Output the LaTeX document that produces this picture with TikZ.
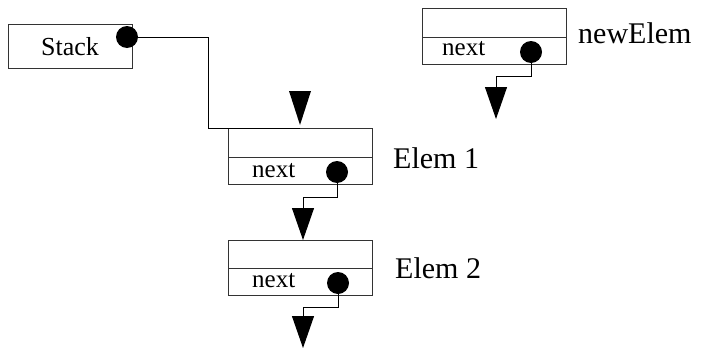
\documentclass[tikz,border=0pt]{standalone}
\usepackage{fontspec}
\setmainfont{Liberation Serif}
\usetikzlibrary{arrows.meta}
\begin{document}
\begin{tikzpicture}[x=1pt,y=-1pt,
  cell/.style={draw=black!80, line width=1pt, rectangle, inner sep=0pt, outer sep=0pt, minimum width=144pt},
  dot/.style={circle, fill=black, inner sep=0pt, minimum size=22pt},
  small/.style={inner sep=0pt, anchor=base west, font=\fontsize{25}{30}\selectfont},
  big/.style={inner sep=0pt, anchor=base west, font=\fontsize{30}{36}\selectfont},
  link/.style={draw=black, line width=1pt},
  tip/.style={-{Triangle[width=22pt,length=32pt,fill=black]}}
]
\useasboundingbox (0,0) rectangle (701,348);
% Stack
\node[cell, minimum width=124pt, minimum height=44pt] (stack) at (70,46) {};
\node[small, font=\fontsize{26}{30}\selectfont] (stacktxt) at (41,55) {Stack};
% newElem
\node[cell, minimum height=29pt] (nt) at (494,22.5) {};
\node[cell, minimum height=27pt] (nb) at (494,50.5) {};
\node[small] (ntxt) at (442,55) {next};
\node[big] (nlab) at (578,43) {newElem};
% Elem 1
\node[cell, minimum height=29pt] (e1t) at (300,142.5) {};
\node[cell, minimum height=27pt] (e1b) at (300,170.5) {};
\node[small] (e1txt) at (252,177) {next};
\node[big] (e1lab) at (393,168) {Elem 1};
% Elem 2
\node[cell, minimum height=28pt] (e2t) at (300,254) {};
\node[cell, minimum height=27pt] (e2b) at (300,281.5) {};
\node[small] (e2txt) at (252,287) {next};
\node[big] (e2lab) at (395,278) {Elem 2};
% bends and free ends
\coordinate (k0) at (208,128);
\coordinate (k1) at (496,76);
\coordinate (t1) at (496,119);
\coordinate (k2) at (303,197);
\coordinate (k3) at (303,307);
\coordinate (t3) at (303,348);
% connectors
\draw[link] (127,37) -| (k0) -- (e1t.north);
\draw[link, tip] (531,52) |- (k1) -- (t1);
\draw[link, tip] (337,172) |- (k2) -- (k2 |- e2t.north);
\draw[link, tip] (338,283) |- (k3) -- (t3);
% free triangle above Elem 1
\fill (289,91) -- (311,91) -- (300,125) -- cycle;
% dots
\node[dot] (ds) at (127,37) {};
\node[dot] (dn) at (531,52) {};
\node[dot] (d1) at (337,172) {};
\node[dot] (d2) at (338,283) {};
\end{tikzpicture}
\end{document}
